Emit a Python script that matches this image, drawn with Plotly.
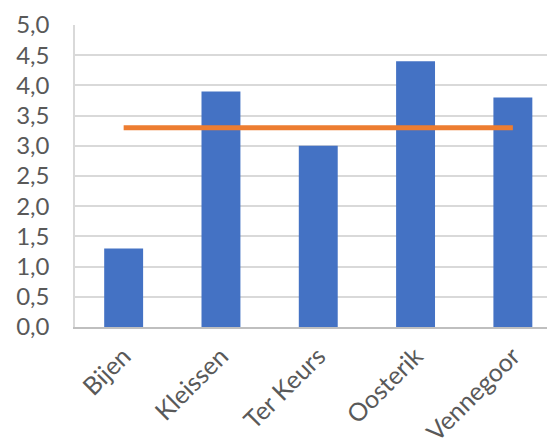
import plotly.graph_objects as go

categories = ["Bijen", "Kleissen", "Ter Keurs", "Oosterik", "Vennegoor"]
scores = [1.3, 3.9, 3.0, 4.4, 3.8]
average = [3.3, 3.3, 3.3, 3.3, 3.3]
y_ticks = [0, 0.5, 1.0, 1.5, 2.0, 2.5, 3.0, 3.5, 4.0, 4.5, 5.0]

font_family = "Lato, 'Open Sans', sans-serif"

fig = go.Figure()
fig.add_trace(go.Bar(
    x=list(range(len(categories))), y=scores,
    marker=dict(color="#4472C4", line=dict(width=0)),
    width=0.4, showlegend=False,
))
fig.add_trace(go.Scatter(
    x=list(range(len(categories))), y=average, mode="lines",
    line=dict(color="#ED7D31", width=5),
    showlegend=False,
))

fig.update_layout(
    width=547, height=434,
    margin=dict(l=67, r=0, t=17, b=115),
    paper_bgcolor="white", plot_bgcolor="white",
    separators=",.",
    font=dict(family=font_family, size=24, color="#595959"),
    xaxis=dict(
        range=[-0.5, 4.433],
        tickmode="array",
        tickvals=list(range(len(categories))),
        ticktext=categories,
        tickangle=-45,
        showgrid=False,
        showline=True, linecolor="#bfbfbf", linewidth=1.5,
        ticks="", ticklabelstandoff=3,
        tickfont=dict(size=25, color="#595959"),
        zeroline=False, automargin=False,
    ),
    yaxis=dict(
        range=[0, 5],
        tickmode="array",
        tickvals=y_ticks,
        tickformat=".1f",
        showgrid=True, gridcolor="#d9d9d9", gridwidth=1.5,
        showline=True, linecolor="#d9d9d9", linewidth=1.5,
        ticks="", ticklabelstandoff=19,
        tickfont=dict(size=24, color="#595959"),
        zeroline=False, automargin=False,
    ),
)

fig.write_html("out.html")
